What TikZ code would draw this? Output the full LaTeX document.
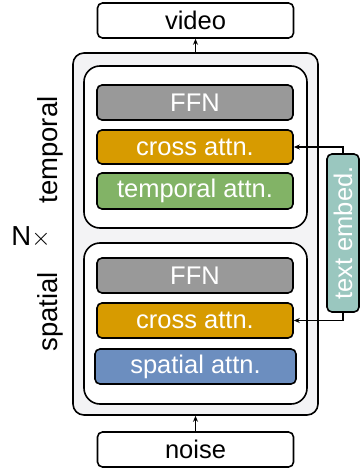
\documentclass[tikz,border=0pt]{standalone}
\usepackage{fontspec}
\setmainfont{Liberation Sans}
\usetikzlibrary{arrows.meta}
\definecolor{ffngray}{HTML}{999999}
\definecolor{crossorange}{HTML}{D79B00}
\definecolor{tempgreen}{HTML}{82B366}
\definecolor{spatblue}{HTML}{6C8EBF}
\definecolor{embteal}{HTML}{9AC7BF}
\definecolor{outerfill}{HTML}{F3F3F5}
\tikzset{
  blk/.style={draw=black, line width=1.6pt, rounded corners=5pt, minimum width=196pt, minimum height=35pt, inner sep=0pt, font=\fontsize{25.5pt}{26pt}\selectfont},
  colblk/.style={blk, fill=#1, text=white},
  ioblk/.style={blk, fill=white, text=black},
  frame/.style={draw=black, line width=1.6pt, inner sep=0pt},
  lbl/.style={font=\fontsize{27.5pt}{28pt}\selectfont, inner sep=0pt},
  arr/.style={line width=1.1pt, -{Stealth[length=6pt,width=5pt]}}
}
\begin{document}
\begin{tikzpicture}[x=1pt,y=-1pt]
\useasboundingbox (0,0) rectangle (362,468);
% outer N-times block
\node[frame, fill=outerfill, rounded corners=11pt, minimum width=245pt, minimum height=362pt] (outer) at (195.5,234) {};
% temporal and spatial sub-blocks
\node[frame, fill=white, rounded corners=16pt, minimum width=223pt, minimum height=162pt] (tblock) at (195.5,147) {};
\node[frame, fill=white, rounded corners=16pt, minimum width=223pt, minimum height=161pt] (sblock) at (195.5,323.5) {};
% input / output
\node[ioblk] (video) at (195.5,20.5) {video};
\node[ioblk] (noise) at (195.5,449.5) {noise};
% temporal layers
\node[colblk=ffngray] (ffn1) at (195,102.5) {FFN};
\node[colblk=crossorange, minimum height=34pt] (cross1) at (195,147) {cross attn.};
\node[colblk=tempgreen, minimum height=36pt] (tattn) at (195,191) {temporal attn.};
% spatial layers
\node[colblk=ffngray] (ffn2) at (195,275.5) {FFN};
\node[colblk=crossorange] (cross2) at (195,320.5) {cross attn.};
\node[colblk=spatblue, minimum width=201pt] (sattn) at (195.5,366.5) {spatial attn.};
% text embedding
\node[colblk=embteal, rotate=90, minimum width=158pt, minimum height=32pt] (emb) at (343,233) {text embed.};
% labels
\node[lbl, rotate=90] (tlbl) at (50,150) {temporal};
\node[lbl, rotate=90] (slbl) at (50,312) {spatial};
\node[lbl] (nx) at (31,237) {N$\times$};
% connectors
\draw[arr] (outer.north) -- (video.south);
\draw[arr] (noise.north) -- (outer.south);
\draw[arr] (emb.east) |- (cross1.east);
\draw[arr] (emb.west) |- (cross2.east);
\end{tikzpicture}
\end{document}
